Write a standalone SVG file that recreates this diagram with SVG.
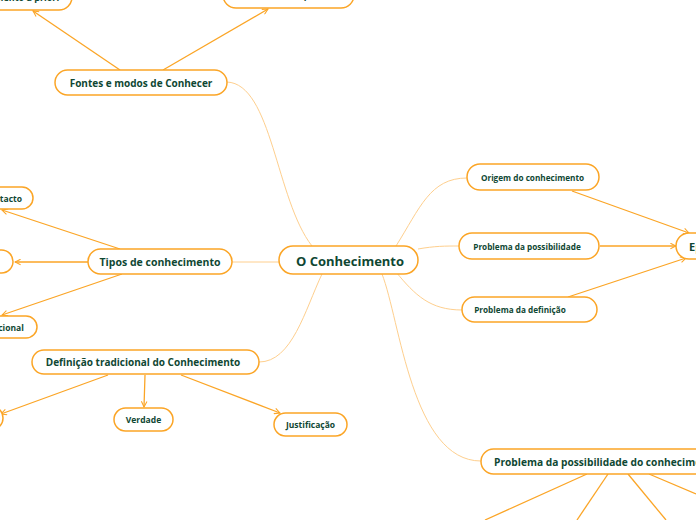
<svg xmlns="http://www.w3.org/2000/svg" width="696" height="520" viewBox="0 0 696 520">
<style>
.n{fill:#fff;stroke:#FBA526;stroke-width:1.5}
.t{font-family:"Open Sans","Noto Sans","Liberation Sans",sans-serif;font-weight:700;fill:#0F4733;text-anchor:middle;dominant-baseline:central}
.c{fill:none;stroke:#FECF8E;stroke-width:1}
.a{fill:none;stroke:#FBA526;stroke-width:1.3;marker-end:url(#ah)}
.l{fill:none;stroke:#FBA526;stroke-width:1.3}
</style>
<defs>
<marker id="ah" viewBox="0 0 10 10" refX="9" refY="5" markerWidth="7" markerHeight="7" orient="auto" markerUnits="userSpaceOnUse">
<path d="M1,1 L9,5 L1,9" fill="none" stroke="#FBA526" stroke-width="1.5"/>
</marker>
</defs>
<rect width="696" height="520" fill="#fff"/>
<g id="connectors">
<path class="c" d="M227,82 C272,84 276,200 312,246"/>
<path class="c" d="M232,262 L279,262"/>
<path class="c" d="M259,362 C292,362 305,310 322,274"/>
<path class="c" d="M396,246 C420,208 430,178 467,178"/>
<path class="c" d="M418,249 C435,246 445,246 459,246"/>
<path class="c" d="M396,272 C415,295 430,310 462,310"/>
<path class="c" d="M382,274 C400,320 412,461 481,461"/>
<path class="a" d="M120,70 L33,11"/>
<path class="a" d="M163,70 L268,9"/>
<path class="a" d="M120,249 L2,210"/>
<path class="a" d="M88,262 L15,262"/>
<path class="a" d="M122,274 L2,315"/>
<path class="a" d="M108,375 L1,414"/>
<path class="a" d="M145,375 L144,407"/>
<path class="a" d="M181,375 L280,413"/>
<path class="a" d="M572,191 L689,233"/>
<path class="a" d="M600,246 L676,246"/>
<path class="a" d="M568,297 L686,258"/>
<path class="l" d="M587,474 L485,520"/>
<path class="l" d="M608,474 L577,520"/>
<path class="l" d="M628,474 L666,520"/>
<path class="l" d="M649,474 L696,494"/>
</g>
<g id="central"><rect class="n" x="279" y="246" width="139" height="28" rx="14"/><text class="t" x="350" y="261" font-size="13">O Conhecimento</text></g>
<g id="fontes"><rect class="n" x="55" y="70" width="172" height="25" rx="12.5"/><text class="t" x="141" y="82.5" font-size="10">Fontes e modos de Conhecer</text></g>
<g id="apriori"><rect class="n" x="-70" y="-16" width="142" height="26" rx="13"/><text class="t" x="9" y="-3" font-size="9">Conhecimento a priori</text></g>
<g id="aposteriori"><rect class="n" x="223" y="-18" width="131" height="26" rx="13"/><text class="t" x="288" y="-5" font-size="9">Conhecimento a posteriori</text></g>
<g id="tipos"><rect class="n" x="88" y="249" width="144" height="25" rx="12.5"/><text class="t" x="160" y="261.5" font-size="10.5">Tipos de conhecimento</text></g>
<g id="contacto"><rect class="n" x="-110" y="187" width="143" height="22" rx="11"/><text class="t" x="-37" y="198" font-size="8.5">Conhecimento por contacto</text></g>
<g id="pratico"><rect class="n" x="-110" y="250" width="123" height="23" rx="11.5"/></g>
<g id="proposicional"><rect class="n" x="-110" y="316" width="147" height="22" rx="11"/><text class="t" x="-37" y="327" font-size="8.5">Conhecimento proposicional</text></g>
<g id="definicao"><rect class="n" x="32" y="350" width="227" height="24" rx="12"/><text class="t" x="143" y="362" font-size="10">Definição tradicional do Conhecimento</text></g>
<g id="crenca"><rect class="n" x="-80" y="406" width="83" height="24" rx="12"/></g>
<g id="verdade"><rect class="n" x="114" y="408" width="59" height="23" rx="11.5"/><text class="t" x="143.5" y="419.5" font-size="8.5">Verdade</text></g>
<g id="justificacao"><rect class="n" x="274" y="413" width="73" height="23" rx="11.5"/><text class="t" x="310.5" y="424.5" font-size="8.5">Justificação</text></g>
<g id="origem"><rect class="n" x="467" y="164" width="132" height="26" rx="13"/><text class="t" x="532.5" y="177" font-size="8.2">Origem do conhecimento</text></g>
<g id="possibilidade"><rect class="n" x="459" y="233" width="140" height="26" rx="13"/><text class="t" x="527" y="246" font-size="8.2">Problema da possibilidade</text></g>
<g id="def"><rect class="n" x="462" y="297" width="135" height="25" rx="12.5"/><text class="t" x="520" y="309.5" font-size="8.2">Problema da definição</text></g>
<g id="epist"><rect class="n" x="676" y="233" width="100" height="26" rx="13"/><text class="t" x="689" y="246" font-size="11" style="text-anchor:start">Epistemologia</text></g>
<g id="possconh"><rect class="n" x="481" y="449" width="270" height="25" rx="12.5"/><text class="t" x="494" y="461.5" font-size="10.2" style="text-anchor:start">Problema da possibilidade do conhecimento</text></g>
</svg>
